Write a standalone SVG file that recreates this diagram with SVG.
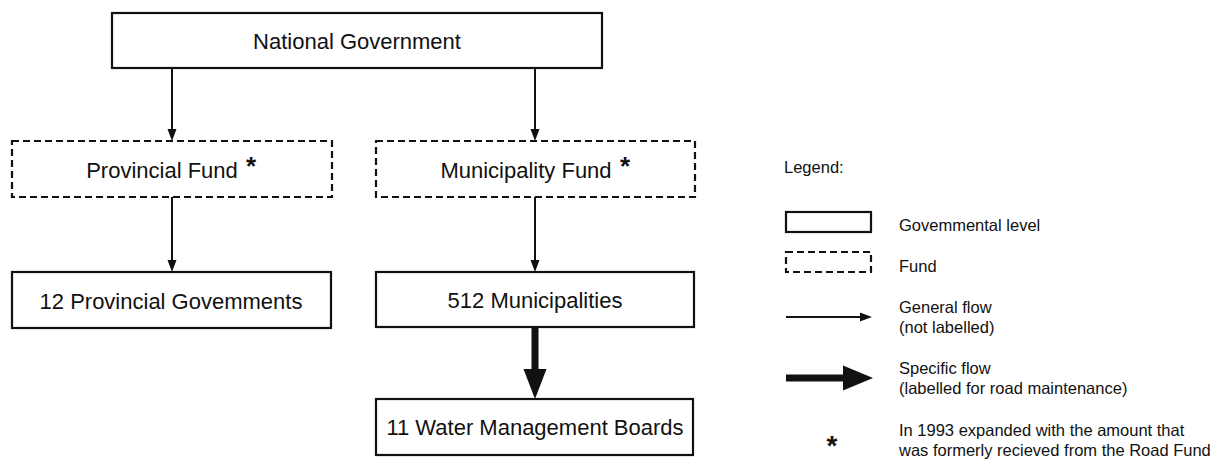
<svg xmlns="http://www.w3.org/2000/svg" width="1218" height="459" viewBox="0 0 1218 459">
  <style>
    .box { fill: #fff; stroke: #111; stroke-width: 2.2; }
    .fund { fill: #fff; stroke: #111; stroke-width: 2.2; stroke-dasharray: 7 4; }
    .lbl { font-family: "Liberation Sans", Arial, sans-serif; font-size: 22px; fill: #111; text-anchor: middle; }
    .leg { font-family: "Liberation Sans", Arial, sans-serif; font-size: 16.5px; fill: #111; }
    .star { font-family: "Liberation Sans", Arial, sans-serif; font-weight: bold; fill: #111; text-anchor: middle; }
    .flow { stroke: #111; stroke-width: 2; fill: none; }
    .bigflow { stroke: #111; stroke-width: 7; fill: none; }
    .head { fill: #111; }
  </style>
  <rect width="1218" height="459" fill="#fff"/>

  <!-- nodes -->
  <g id="national">
    <rect class="box" x="112" y="13" width="490" height="55"/>
    <text class="lbl" x="357" y="49">National Government</text>
  </g>
  <g id="provincial-fund">
    <rect class="fund" x="12" y="141" width="320" height="56"/>
    <text class="lbl" x="162" y="178">Provincial Fund</text>
    <text class="star" x="251" y="175" font-size="26">*</text>
  </g>
  <g id="municipality-fund">
    <rect class="fund" x="376" y="141" width="319" height="56"/>
    <text class="lbl" x="526" y="178">Municipality Fund</text>
    <text class="star" x="625" y="175" font-size="26">*</text>
  </g>
  <g id="provincial-governments">
    <rect class="box" x="12" y="272" width="319" height="56"/>
    <text class="lbl" x="171" y="309">12 Provincial Govemments</text>
  </g>
  <g id="municipalities">
    <rect class="box" x="376" y="272" width="318" height="55"/>
    <text class="lbl" x="535" y="308">512 Municipalities</text>
  </g>
  <g id="water-boards">
    <rect class="box" x="376" y="399" width="317" height="56"/>
    <text class="lbl" x="535" y="435">11 Water Management Boards</text>
  </g>

  <!-- connectors -->
  <g id="connectors">
    <line class="flow" x1="172" y1="68" x2="172" y2="131"/>
    <polygon class="head" points="167.5,129 176.5,129 172,141"/>
    <line class="flow" x1="535" y1="68" x2="535" y2="131"/>
    <polygon class="head" points="530.5,129 539.5,129 535,141"/>
    <line class="flow" x1="172" y1="197" x2="172" y2="262"/>
    <polygon class="head" points="167.5,260 176.5,260 172,272"/>
    <line class="flow" x1="535" y1="197" x2="535" y2="262"/>
    <polygon class="head" points="530.5,260 539.5,260 535,272"/>
    <line class="bigflow" x1="535" y1="327" x2="535" y2="372"/>
    <polygon class="head" points="523.5,369 546.5,369 535,399"/>
  </g>

  <!-- legend -->
  <g id="legend">
    <text class="leg" x="784" y="173">Legend:</text>
    <rect class="box" x="786" y="212" width="85" height="20"/>
    <text class="leg" x="899" y="231">Govemmental level</text>
    <rect class="fund" x="786" y="252" width="85" height="20" stroke-dasharray="5 3.5"/>
    <text class="leg" x="899" y="272">Fund</text>
    <line class="flow" x1="786" y1="317" x2="862" y2="317"/>
    <polygon class="head" points="860,312.5 860,321.5 872,317"/>
    <text class="leg" x="899" y="313">General flow</text>
    <text class="leg" x="899" y="333">(not labelled)</text>
    <line class="bigflow" x1="786" y1="378" x2="846" y2="378"/>
    <polygon class="head" points="843,365.5 843,390.5 873,378"/>
    <text class="leg" x="899" y="374">Specific flow</text>
    <text class="leg" x="899" y="394">(labelled for road maintenance)</text>
    <text class="star" x="832" y="455" font-size="28">*</text>
    <text class="leg" x="899" y="436">In 1993 expanded with the amount that</text>
    <text class="leg" x="899" y="456">was formerly recieved from the Road Fund</text>
  </g>
</svg>
